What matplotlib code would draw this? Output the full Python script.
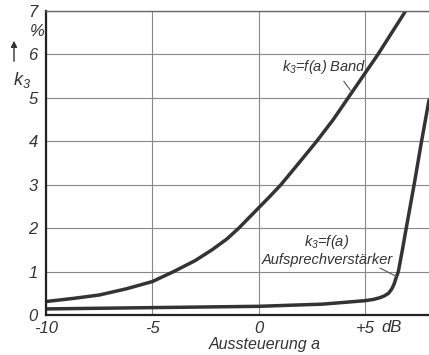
import matplotlib
matplotlib.use("Agg")
import matplotlib.pyplot as plt

# Kurve "Band"
band_x = [-10, -8.75, -7.5, -6.25, -5, -4, -3, -2.2, -1.5, -0.94, 0, 0.5,
          1.04, 1.8, 2.72, 3.5, 4.2, 4.9, 5.6, 6.25, 6.9]
band_y = [0.31, 0.38, 0.46, 0.6, 0.77, 1.0, 1.25, 1.5, 1.75, 2.0, 2.47, 2.72,
          3.0, 3.45, 4.0, 4.5, 5.0, 5.5, 6.0, 6.5, 7.0]

# Kurve "Aufsprechverstärker"
amp_x = [-10, -5, 0, 3, 5, 5.4, 5.7, 5.9, 6.1, 6.25, 6.35, 6.45, 6.56,
         6.75, 6.93, 7.3, 7.65, 8.0]
amp_y = [0.14, 0.17, 0.2, 0.25, 0.33, 0.36, 0.4, 0.44, 0.5, 0.6, 0.7, 0.85,
         1.0, 1.5, 2.0, 3.0, 4.0, 4.95]

x_ticks = [-10, -5, 0, 5]
x_labels = ["-10", "-5", "0", "+5"]
y_ticks = [0, 1, 2, 3, 4, 5, 6, 7]

FONT = ["Liberation Sans", "DejaVu Sans"]
plt.rcParams["font.family"] = FONT
plt.rcParams["font.style"] = "italic"
plt.rcParams["mathtext.fontset"] = "custom"
plt.rcParams["mathtext.rm"] = "Liberation Sans:italic"
plt.rcParams["mathtext.it"] = "Liberation Sans:italic"

W, H = 429, 355
fig = plt.figure(figsize=(W / 100, H / 100), dpi=100)
ax = fig.add_axes([46 / W, 1 - 315 / H, 1 - 46 / W, (315 - 11) / H])

ax.plot(band_x, band_y, color="#333333", lw=2.5, solid_capstyle="round", solid_joinstyle="round")
ax.plot(amp_x, amp_y, color="#333333", lw=2.5, solid_capstyle="round", solid_joinstyle="round")

ax.set_xlim(-10, 8)
ax.set_ylim(0, 7)
ax.set_xticks(x_ticks)
ax.set_xticklabels(x_labels)
ax.set_yticks(y_ticks)
ax.tick_params(length=0, labelsize=12, colors="#333333")
ax.tick_params(axis="x", pad=4)
ax.tick_params(axis="y", pad=6)
ax.grid(True, color="#888888", lw=0.8)
for s in ["left", "bottom"]:
    ax.spines[s].set_linewidth(1.6)
    ax.spines[s].set_color("#222222")
ax.spines["top"].set_color("#666666")
ax.spines["top"].set_linewidth(1.0)
ax.spines["right"].set_visible(False)

# Beschriftungen
ax.text(3.1, 5.7, "$k_3$=f(a) Band", fontsize=10.5, ha="center", va="center", color="#333333")
ax.plot([4.0, 4.3], [5.38, 5.18], color="#555555", lw=0.8)
ax.text(3.2, 1.68, "$k_3$=f(a)", fontsize=10.5, ha="center", va="center", color="#333333")
ax.text(3.2, 1.27, "Aufsprechverstärker", fontsize=10.5, ha="center", va="center", color="#333333")
ax.plot([5.7, 6.5], [1.08, 0.88], color="#555555", lw=0.8)

fig.text(392 / W, 1 - 328 / H, "dB", fontsize=12, ha="center", va="center", color="#333333")
fig.text(265 / W, 1 - 345 / H, "Aussteuerung a", fontsize=11.5, ha="center", va="center", color="#333333")
fig.text(37 / W, 1 - 32 / H, "%", fontsize=12, ha="center", va="center", color="#333333")
fig.text(22 / W, 1 - 80 / H, "$k_3$", fontsize=13, ha="center", va="center", color="#333333")
fig.add_artist(matplotlib.patches.FancyArrowPatch(
    (14 / W, 1 - 64 / H), (14 / W, 1 - 38 / H), transform=fig.transFigure,
    arrowstyle="-|>", mutation_scale=9, color="#333333", lw=1.0))

fig.savefig("out.png", dpi=100)
